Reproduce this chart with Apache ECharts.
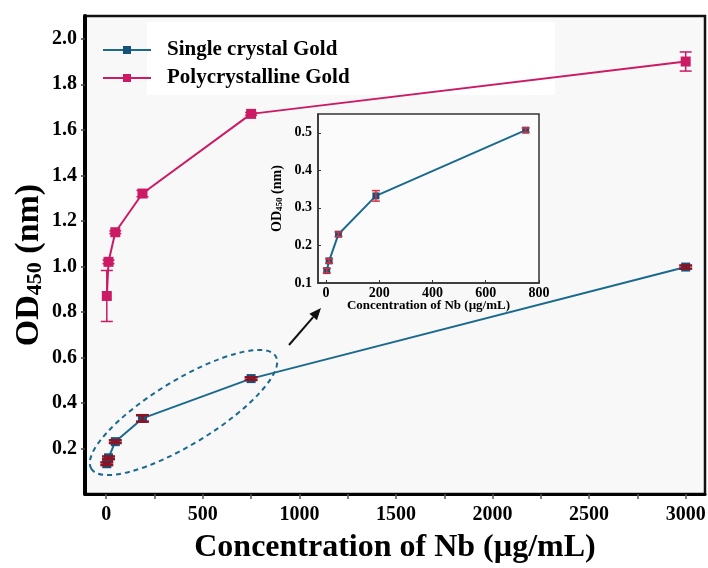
<!DOCTYPE html>
<html>
<head>
<meta charset="utf-8">
<script src="https://cdn.jsdelivr.net/npm/echarts@6/dist/echarts.min.js"></script>
<style>
  html, body { margin: 0; padding: 0; background: #fff; }
  #chart { width: 708px; height: 568px; }
</style>
</head>
<body>
<div id="chart"></div>
<script>
// concentrations (ug/mL)
var conc = [2.93, 11.72, 46.88, 187.5, 750, 3000];
// OD450 values
var singleCrystal = [0.133, 0.159, 0.230, 0.332, 0.507, 0.997];
var singleErr = [0.006, 0.006, 0.006, 0.014, 0.006, 0.007];
var polyCrystal = [0.87, 1.02, 1.15, 1.32, 1.67, 1.90];
var polyErr = [0.112, 0.008, 0.006, 0.014, 0.006, 0.042];
// inset shows first five points of single crystal
var insetCount = 5;

var mainXTicks = [0, 500, 1000, 1500, 2000, 2500, 3000];
var mainXMinor = [0, 250, 500, 750, 1000, 1250, 1500, 1750, 2000, 2250, 2500, 2750, 3000];
var mainYTicks = [0.2, 0.4, 0.6, 0.8, 1.0, 1.2, 1.4, 1.6, 1.8, 2.0];
var insetXTicks = [0, 200, 400, 600, 800];
var insetYTicks = [0.1, 0.2, 0.3, 0.4, 0.5];

var BLUE = '#1b6a8e';
var BLUE_DARK = '#17527a';
var PINK = '#cc1a64';
var DARKRED = '#8e1222';
var RED = '#e22c3c';
var FONT = '"Liberation Serif", "Times New Roman", serif';

function pairs(xs, ys, es) {
    var out = [];
    for (var i = 0; i < ys.length; i++) {
        out.push(es ? [xs[i], ys[i], es[i]] : [xs[i], ys[i]]);
    }
    return out;
}

function errorBars(capW, color, lw) {
    return function (params, api) {
        var x = api.value(0), y = api.value(1), e = api.value(2);
        var top = api.coord([x, y + e]);
        var bot = api.coord([x, y - e]);
        var st = { stroke: color, lineWidth: lw };
        return {
            type: 'group',
            children: [
                { type: 'line', shape: { x1: top[0], y1: top[1], x2: bot[0], y2: bot[1] }, style: st },
                { type: 'line', shape: { x1: top[0] - capW / 2, y1: top[1], x2: top[0] + capW / 2, y2: top[1] }, style: st },
                { type: 'line', shape: { x1: bot[0] - capW / 2, y1: bot[1], x2: bot[0] + capW / 2, y2: bot[1] }, style: st }
            ]
        };
    };
}

// arrow from ellipse to inset
var tail = [289, 345], tip = [321, 308];
var dx = tip[0] - tail[0], dy = tip[1] - tail[1];
var len = Math.sqrt(dx * dx + dy * dy);
var ux = dx / len, uy = dy / len;
var bx = tip[0] - 12 * ux, by = tip[1] - 12 * uy;

var myChart = echarts.init(document.getElementById('chart'));

var option = {
    backgroundColor: '#fff',
    animation: false,
    textStyle: { fontFamily: FONT },
    legend: {
        data: ['Single crystal Gold', 'Polycrystalline Gold'],
        orient: 'vertical',
        left: 97,
        top: 34,
        itemWidth: 48,
        itemHeight: 10,
        itemGap: 6,
        textStyle: {
            fontFamily: FONT, fontWeight: 'bold', fontSize: 21, color: '#000',
            lineHeight: 22, padding: [0, 0, 0, 11]
        }
    },
    grid: [
        {
            left: 85, right: 3, top: 16, bottom: 74,
            outerBoundsMode: 'none',
            show: true, backgroundColor: '#f8f8f8',
            borderColor: '#111', borderWidth: 2.5
        },
        {
            left: 318, top: 114, width: 221, height: 169,
            outerBoundsMode: 'none',
            show: true, backgroundColor: '#fbfbfb',
            borderColor: '#333', borderWidth: 1.5, z: 3
        }
    ],
    xAxis: [
        {
            gridIndex: 0, type: 'value', min: -110, max: 3100,
            splitLine: { show: false },
            axisLine: { onZero: false, lineStyle: { color: '#000', width: 3 } },
            axisTick: { customValues: mainXMinor, length: 5, lineStyle: { color: '#555', width: 1.5 } },
            axisLabel: {
                customValues: mainXTicks, margin: 11,
                formatter: function (v) { return String(v); },
                fontFamily: FONT, fontWeight: 'bold', fontSize: 20, color: '#000'
            },
            name: 'Concentration of Nb (\u00b5g/mL)',
            nameLocation: 'middle', nameGap: 38, nameMoveOverlap: false,
            nameTextStyle: { fontFamily: FONT, fontWeight: 'bold', fontSize: 32, color: '#000' }
        },
        {
            gridIndex: 1, type: 'value', min: -30, max: 800, z: 4,
            splitLine: { show: false },
            axisLine: { onZero: false, lineStyle: { color: '#333', width: 1.5 } },
            axisTick: { customValues: insetXTicks, inside: true, length: 3, lineStyle: { color: '#333' } },
            axisLabel: {
                customValues: insetXTicks, margin: 3,
                formatter: function (v) { return String(v); },
                fontFamily: FONT, fontWeight: 'bold', fontSize: 14, color: '#000'
            },
            name: 'Concentration of Nb (\u00b5g/mL)',
            nameLocation: 'middle', nameGap: 16, nameMoveOverlap: false,
            nameTextStyle: { fontFamily: FONT, fontWeight: 'bold', fontSize: 13, color: '#000' }
        }
    ],
    yAxis: [
        {
            gridIndex: 0, type: 'value', min: 0, max: 2.1,
            splitLine: { show: false },
            axisLine: { onZero: false, lineStyle: { color: '#000', width: 4 } },
            axisTick: { customValues: mainYTicks, length: 4, lineStyle: { color: '#444', width: 1.5 } },
            axisLabel: {
                customValues: mainYTicks, margin: 8,
                formatter: function (v) { return v.toFixed(1); },
                fontFamily: FONT, fontWeight: 'bold', fontSize: 20, color: '#000'
            },
            name: '{a|OD}{b|450}{a| (nm)}',
            nameLocation: 'middle', nameGap: 39, nameRotate: 90, nameMoveOverlap: false,
            nameTextStyle: {
                padding: [0, 20, 0, 0],
                rich: {
                    a: { fontFamily: FONT, fontWeight: 'bold', fontSize: 34, color: '#000', lineHeight: 34 },
                    b: { fontFamily: FONT, fontWeight: 'bold', fontSize: 22, color: '#000', lineHeight: 14, verticalAlign: 'bottom' }
                }
            }
        },
        {
            gridIndex: 1, type: 'value', min: 0.1, max: 0.55, z: 4,
            splitLine: { show: false },
            axisLine: { onZero: false, lineStyle: { color: '#333', width: 1.5 } },
            axisTick: { customValues: insetYTicks, inside: true, length: 3, lineStyle: { color: '#333' } },
            axisLabel: {
                customValues: insetYTicks, margin: 6,
                formatter: function (v) { return v.toFixed(1); },
                fontFamily: FONT, fontWeight: 'bold', fontSize: 14, color: '#000'
            },
            name: '{a|OD}{b|450}{a| (nm)}',
            nameLocation: 'middle', nameGap: 34, nameRotate: 90, nameMoveOverlap: false,
            nameTextStyle: {
                rich: {
                    a: { fontFamily: FONT, fontWeight: 'bold', fontSize: 14, color: '#000', lineHeight: 14 },
                    b: { fontFamily: FONT, fontWeight: 'bold', fontSize: 9, color: '#000', lineHeight: 6, verticalAlign: 'bottom' }
                }
            }
        }
    ],
    graphic: [
        { type: 'rect', z: 1, shape: { x: 147, y: 22, width: 408, height: 73 }, style: { fill: '#fff' } },
        {
            type: 'ellipse', z: 10, x: 183.5, y: 412.5, rotation: 31.4 * Math.PI / 180,
            shape: { cx: 0, cy: 0, rx: 108, ry: 32 },
            style: { fill: null, stroke: BLUE, lineWidth: 2, lineDash: [5, 4] }
        },
        {
            type: 'line', z: 10,
            shape: { x1: tail[0], y1: tail[1], x2: bx, y2: by },
            style: { stroke: '#111', lineWidth: 2 }
        },
        {
            type: 'polygon', z: 10,
            shape: { points: [tip, [bx + 5 * uy, by - 5 * ux], [bx - 5 * uy, by + 5 * ux]] },
            style: { fill: '#111' }
        }
    ],
    series: [
        {
            name: 'Single crystal Gold', type: 'line', xAxisIndex: 0, yAxisIndex: 0,
            data: pairs(conc, singleCrystal),
            symbol: 'rect', symbolSize: 9,
            itemStyle: { color: BLUE_DARK },
            lineStyle: { color: BLUE, width: 2 },
            z: 5
        },
        {
            name: 'Polycrystalline Gold', type: 'line', xAxisIndex: 0, yAxisIndex: 0,
            data: pairs(conc, polyCrystal),
            symbol: 'rect', symbolSize: 10,
            itemStyle: { color: PINK },
            lineStyle: { color: PINK, width: 2 },
            z: 5
        },
        {
            name: 'err-single', type: 'custom', xAxisIndex: 0, yAxisIndex: 0,
            data: pairs(conc, singleCrystal, singleErr),
            encode: { x: 0, y: 1 },
            renderItem: errorBars(13, DARKRED, 2.5), z: 6
        },
        {
            name: 'err-poly', type: 'custom', xAxisIndex: 0, yAxisIndex: 0,
            data: pairs(conc, polyCrystal, polyErr),
            encode: { x: 0, y: 1 },
            renderItem: errorBars(12, PINK, 1.5), z: 6
        },
        {
            name: 'inset', type: 'line', xAxisIndex: 1, yAxisIndex: 1,
            data: pairs(conc, singleCrystal).slice(0, insetCount),
            symbol: 'rect', symbolSize: 7,
            itemStyle: { color: BLUE_DARK },
            lineStyle: { color: BLUE, width: 2 },
            z: 7
        },
        {
            name: 'err-inset', type: 'custom', xAxisIndex: 1, yAxisIndex: 1,
            data: pairs(conc, singleCrystal, singleErr).slice(0, insetCount),
            encode: { x: 0, y: 1 },
            renderItem: errorBars(8, RED, 1.5), z: 8
        }
    ]
};

myChart.setOption(option);
window.addEventListener('resize', function () {
    myChart.resize();
});
</script>
</body>
</html>
